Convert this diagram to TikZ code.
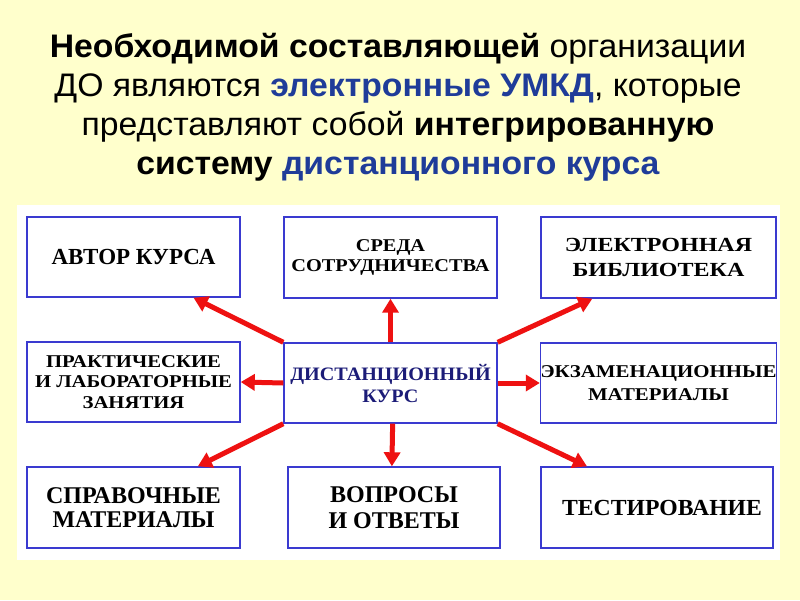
\documentclass[tikz,border=0pt]{standalone}
\usepackage{fontspec}
\setmainfont{Liberation Serif}
\newfontfamily\titlefont{Liberation Sans}
\usetikzlibrary{arrows.meta,calc}
\definecolor{bgyellow}{HTML}{FFFFCC}
\definecolor{boxblue}{HTML}{3A3AD0}
\definecolor{arrred}{HTML}{EE1111}
\definecolor{titleblue}{HTML}{1F3C99}
\definecolor{centerblue}{HTML}{1C1C78}
\newcommand{\hstretch}[2]{\scalebox{#1}[1]{#2}}
\tikzset{
  box/.style={draw=boxblue, line width=1.4pt, fill=white, inner sep=0pt, align=center},
  arr/.style={draw=arrred, line width=5pt, -{Triangle[length=14pt,width=16pt]}},
}
\begin{document}
\begin{tikzpicture}[x=1pt,y=-1pt]
\useasboundingbox (0,0) rectangle (800,600);
\fill[bgyellow] (0,0) rectangle (800,600);
\fill[white] (17,205) rectangle (780,560);
% title
\node[font=\titlefont\fontsize{32.6}{39}\selectfont, align=center, anchor=center] (title) at (398,107)
  {\hstretch{1.035}{\textbf{Необходимой составляющей} организации}\\
   \hstretch{1.035}{ДО являются \textcolor{titleblue}{\textbf{электронные УМКД}}, которые}\\
   \hstretch{1.035}{представляют собой \textbf{интегрированную}}\\
   \hstretch{1.035}{\textbf{систему} \textcolor{titleblue}{\textbf{дистанционного курса}}}};
% boxes
\node[box, minimum width=213pt, minimum height=80pt, font=\bfseries\fontsize{23}{25}\selectfont] (autor) at (133.5,257) {АВТОР КУРСА};
\node[box, minimum width=213pt, minimum height=81pt, font=\bfseries\fontsize{18}{20}\selectfont] (sreda) at (390.5,257.5) {\hstretch{1.13}{СРЕДА}\\\hstretch{1.13}{СОТРУДНИЧЕСТВА}};
\node[box, minimum width=235pt, minimum height=81pt, font=\bfseries\fontsize{20}{25}\selectfont] (lib) at (658.5,257.5) {\hstretch{1.2}{ЭЛЕКТРОННАЯ}\\\hstretch{1.2}{БИБЛИОТЕКА}};
\node[box, minimum width=213pt, minimum height=80pt, font=\bfseries\fontsize{18}{20.5}\selectfont] (prak) at (133.5,382) {\hstretch{1.15}{ПРАКТИЧЕСКИЕ}\\\hstretch{1.15}{И ЛАБОРАТОРНЫЕ}\\\hstretch{1.15}{ЗАНЯТИЯ}};
\node[box, minimum width=213pt, minimum height=80pt, text=centerblue, font=\bfseries\fontsize{19}{22}\selectfont] (center) at (390.5,383) {\hstretch{1.06}{ДИСТАНЦИОННЫЙ}\\\hstretch{1.06}{КУРС}};
\node[box, minimum width=235pt, minimum height=80pt, font=\bfseries\fontsize{18}{23}\selectfont] (exam) at (658.5,383) {\hstretch{1.16}{ЭКЗАМЕНАЦИОННЫЕ}\\\hstretch{1.16}{МАТЕРИАЛЫ}};
\node[box, minimum width=213pt, minimum height=81pt, font=\bfseries\fontsize{24}{24}\selectfont] (sprav) at (133.5,507.5) {СПРАВОЧНЫЕ\\МАТЕРИАЛЫ};
\node[box, minimum width=212pt, minimum height=81pt, font=\bfseries\fontsize{24}{26}\selectfont] (vopr) at (394,507.5) {ВОПРОСЫ\\И ОТВЕТЫ};
\node[box, minimum width=232pt, minimum height=81pt, font=\bfseries\fontsize{23}{25}\selectfont, text width=232pt, align=center] (test) at (657,507.5) {\hspace*{10pt}\hstretch{1.03}{ТЕСТИРОВАНИЕ}};
% arrows
\draw[arr] (center.north) -- (sreda.south);
\draw[arr] (center.north west) -- ($(autor.south west)!0.78!(autor.south east)$);
\draw[arr] (center.north east) -- ($(lib.south west)!0.22!(lib.south east)$);
\draw[arr] (center.west) -- (prak.east);
\draw[arr] (center.east) -- (exam.west);
\draw[arr] (center.south west) -- ($(sprav.north west)!0.8!(sprav.north east)$);
\draw[arr] ($(center.south west)!0.51!(center.south east)$) -- ($(vopr.north west)!0.49!(vopr.north east)$);
\draw[arr] (center.south east) -- ($(test.north west)!0.2!(test.north east)$);
\end{tikzpicture}
\end{document}
